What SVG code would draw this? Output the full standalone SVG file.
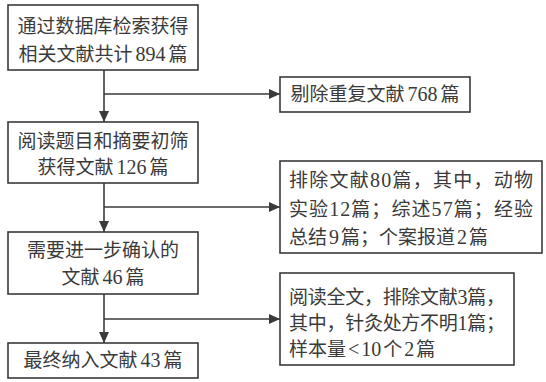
<svg xmlns="http://www.w3.org/2000/svg" width="546" height="382" viewBox="0 0 546 382">
<style>
.box{fill:#fff;stroke:#3a3a3a;stroke-width:1.6}
.t{font-family:"Noto Sans CJK SC",sans-serif;font-size:19px;fill:#3a3a3a}
.n{font-family:"Liberation Serif",serif;font-size:20px}
.c{text-anchor:middle}
.ln{stroke:#3a3a3a;stroke-width:1.6;fill:none}
</style>
<defs>
<marker id="ah" markerUnits="userSpaceOnUse" markerWidth="12" markerHeight="10" refX="11" refY="5" orient="auto">
<path d="M0,0 L11,5 L0,10 z" fill="#3a3a3a"/>
</marker>
</defs>
<rect width="546" height="382" fill="#fff"/>
<g id="connectors">
<line class="ln" x1="104" y1="70" x2="104" y2="122" marker-end="url(#ah)"/>
<line class="ln" x1="104" y1="94" x2="280" y2="94" marker-end="url(#ah)"/>
<line class="ln" x1="104" y1="183" x2="104" y2="232" marker-end="url(#ah)"/>
<line class="ln" x1="104" y1="207" x2="280" y2="207" marker-end="url(#ah)"/>
<line class="ln" x1="104" y1="294" x2="104" y2="343" marker-end="url(#ah)"/>
<line class="ln" x1="104" y1="319" x2="280" y2="319" marker-end="url(#ah)"/>
</g>
<g id="n1">
<rect class="box" x="8" y="5" width="190" height="65"/>
<text class="t c" x="103" y="33">通过数据库检索获得</text>
<text class="t c" x="103" y="61">相关文献共计<tspan class="n" dx="3">894</tspan><tspan dx="3">篇</tspan></text>
</g>
<g id="n2">
<rect class="box" x="280" y="77" width="190" height="35"/>
<text class="t c" x="375" y="101">剔除重复文献<tspan class="n" dx="3">768</tspan><tspan dx="3">篇</tspan></text>
</g>
<g id="n3">
<rect class="box" x="8" y="122" width="190" height="61"/>
<text class="t c" x="103" y="148">阅读题目和摘要初筛</text>
<text class="t c" x="103" y="174">获得文献<tspan class="n" dx="3">126</tspan><tspan dx="3">篇</tspan></text>
</g>
<g id="n4">
<rect class="box" x="280" y="161" width="262" height="92"/>
<text class="t" x="289" y="187" textLength="244" lengthAdjust="spacing">排除文献<tspan class="n">80</tspan>篇，其中，动物</text>
<text class="t" x="289" y="216" textLength="244" lengthAdjust="spacing">实验<tspan class="n">12</tspan>篇；综述<tspan class="n">57</tspan>篇；经验</text>
<text class="t" x="289" y="244">总结<tspan class="n" dx="2">9</tspan><tspan dx="2">篇；个案报道</tspan><tspan class="n" dx="2">2</tspan><tspan dx="2">篇</tspan></text>
</g>
<g id="n5">
<rect class="box" x="8" y="232" width="190" height="62"/>
<text class="t c" x="103" y="257">需要进一步确认的</text>
<text class="t c" x="103" y="284">文献<tspan class="n" dx="3">46</tspan><tspan dx="3">篇</tspan></text>
</g>
<g id="n6">
<rect class="box" x="280" y="273" width="234" height="92"/>
<text class="t" x="289" y="304" textLength="216" lengthAdjust="spacing">阅读全文，排除文献<tspan class="n">3</tspan>篇，</text>
<text class="t" x="289" y="330" textLength="216" lengthAdjust="spacing">其中，针灸处方不明<tspan class="n">1</tspan>篇；</text>
<text class="t" x="289" y="356">样本量<tspan class="n" dx="2">&lt;</tspan><tspan class="n" dx="2">10</tspan><tspan dx="2">个</tspan><tspan class="n" dx="2">2</tspan><tspan dx="2">篇</tspan></text>
</g>
<g id="n7">
<rect class="box" x="8" y="343" width="190" height="35"/>
<text class="t c" x="103" y="367">最终纳入文献<tspan class="n" dx="3">43</tspan><tspan dx="3">篇</tspan></text>
</g>
</svg>
